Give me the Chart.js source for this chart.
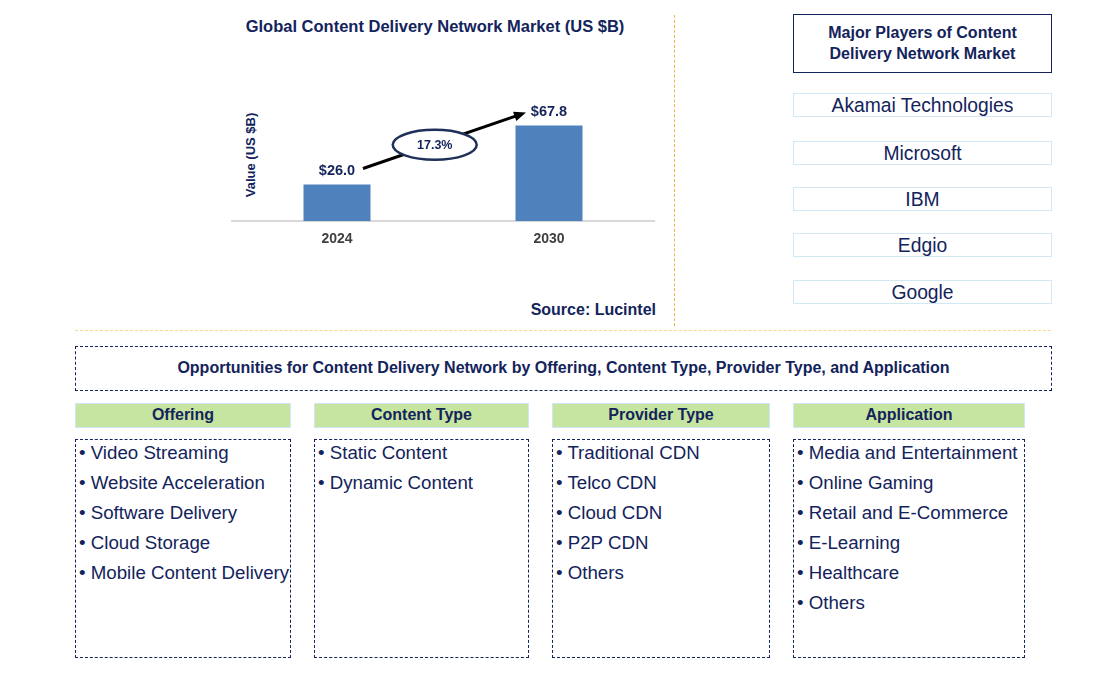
<!DOCTYPE html>
<html>
<head>
<meta charset="utf-8">
<script src="https://cdn.jsdelivr.net/npm/chart.js@4.4.1/dist/chart.umd.min.js"></script>
<style>
body { margin: 0; background: #fff; font-family: "Liberation Sans", Arial, sans-serif; color: #13235b; }
#page { position: relative; width: 1116px; height: 697px; overflow: hidden; }
.abs { position: absolute; box-sizing: border-box; }
.title { font-weight: bold; font-size: 16px; white-space: nowrap; }
.player { border: 1.5px solid #d3e8f5; font-size: 19.3px; text-align: center; line-height: 22px; padding-top: 1px; }
.seghead { background: #c6e5a0; border: 1.5px solid #cfe6f7; font-weight: bold; font-size: 16px; text-align: center; line-height: 21px; }
.seglist { border: 1.5px dashed #13235b; font-size: 18.7px; padding: 2px 0 0 3px; }
.seglist div { height: 30px; line-height: 22px; white-space: nowrap; }
</style>
</head>
<body>
<div id="page">
  <div class="abs title" style="left:185px;top:17px;width:500px;text-align:center;font-size:16.5px;">Global Content Delivery Network Market (US $B)</div>
  <div class="abs" style="left:243px;top:147px;width:0;height:0;">
    <div style="position:absolute;transform:translate(-50%,-50%) rotate(-90deg);font-weight:bold;font-size:13px;white-space:nowrap;left:7px;top:8px;">Value (US $B)</div>
  </div>
  <div class="abs" style="left:231px;top:60px;width:424px;height:190px;"><canvas id="mainChart" width="424" height="190"></canvas></div>
  <div class="abs title" style="left:480px;top:301px;width:176px;text-align:right;">Source: Lucintel</div>

  <div class="abs" style="left:674px;top:15px;width:0;height:311px;border-left:1.5px dashed #f5b342;"></div>
  <div class="abs" style="left:75px;top:330px;width:976px;height:0;border-top:1.5px dashed #f8d98c;"></div>

  <div class="abs title" style="left:793px;top:14px;width:259px;height:59px;border:1.5px solid #13235b;text-align:center;line-height:21px;padding-top:7px;">Major Players of Content<br>Delivery Network Market</div>
  <div id="players"></div>

  <div class="abs title" style="left:75px;top:346px;width:977px;height:45px;border:1.5px dashed #13235b;text-align:center;line-height:42px;">Opportunities for Content Delivery Network by Offering, Content Type, Provider Type, and Application</div>
  <div id="segments"></div>
</div>

<script>
var years = ['2024', '2030'];
var marketValues = [26.0, 67.8];
var cagrLabel = '17.3%';

var players = ['Akamai Technologies', 'Microsoft', 'IBM', 'Edgio', 'Google'];

var segmentTitles = ['Offering', 'Content Type', 'Provider Type', 'Application'];
var offering = ['Video Streaming', 'Website Acceleration', 'Software Delivery', 'Cloud Storage', 'Mobile Content Delivery'];
var contentType = ['Static Content', 'Dynamic Content'];
var providerType = ['Traditional CDN', 'Telco CDN', 'Cloud CDN', 'P2P CDN', 'Others'];
var application = ['Media and Entertainment', 'Online Gaming', 'Retail and E-Commerce', 'E-Learning', 'Healthcare', 'Others'];

// layout of the side panels
var playerTops = [93, 141, 187, 233, 280];
var colLeft = [75, 314, 552, 793];
var colWidth = [216, 215, 218, 232];

var html = '';
players.forEach(function(p, i) {
  html += '<div class="abs player" style="left:793px;top:' + playerTops[i] + 'px;width:259px;height:24px;">' + p + '</div>';
});
document.getElementById('players').innerHTML = html;

var lists = [offering, contentType, providerType, application];
html = '';
segmentTitles.forEach(function(t, i) {
  html += '<div class="abs seghead" style="left:' + colLeft[i] + 'px;top:403px;width:' + colWidth[i] + 'px;height:25px;">' + t + '</div>';
  html += '<div class="abs seglist" style="left:' + colLeft[i] + 'px;top:439px;width:' + colWidth[i] + 'px;height:219px;">';
  lists[i].forEach(function(item) { html += '<div>\u2022 ' + item + '</div>'; });
  html += '</div>';
});
document.getElementById('segments').innerHTML = html;

var overlayPlugin = {
  id: 'overlay',
  afterDatasetsDraw: function(chart) {
    var ctx = chart.ctx;
    var meta = chart.getDatasetMeta(0);
    var y = chart.scales.y;
    ctx.save();
    ctx.fillStyle = '#13235b';
    ctx.font = 'bold 14.5px "Liberation Sans", Arial, sans-serif';
    ctx.textAlign = 'center';
    ctx.textBaseline = 'middle';
    meta.data.forEach(function(bar, i) {
      ctx.fillText('$' + marketValues[i].toFixed(1), bar.x, bar.y - 13);
    });

    // growth arrow between the two value labels
    var x0 = meta.data[0].x + 26, y0 = y.getPixelForValue(marketValues[0]) - 16;
    var x1 = meta.data[1].x - 23, y1 = y.getPixelForValue(marketValues[1]) - 13;
    var ang = Math.atan2(y1 - y0, x1 - x0);
    ctx.strokeStyle = '#000';
    ctx.lineWidth = 3;
    ctx.beginPath();
    ctx.moveTo(x0, y0);
    ctx.lineTo(x1 - 8 * Math.cos(ang), y1 - 8 * Math.sin(ang));
    ctx.stroke();
    ctx.fillStyle = '#000';
    ctx.beginPath();
    ctx.moveTo(x1, y1);
    ctx.lineTo(x1 - 12 * Math.cos(ang) + 5 * Math.sin(ang), y1 - 12 * Math.sin(ang) - 5 * Math.cos(ang));
    ctx.lineTo(x1 - 12 * Math.cos(ang) - 5 * Math.sin(ang), y1 - 12 * Math.sin(ang) + 5 * Math.cos(ang));
    ctx.closePath();
    ctx.fill();

    // CAGR ellipse
    var t = 0.44;
    var ex = x0 + (x1 - x0) * t, ey = y0 + (y1 - y0) * t + 1;
    ctx.beginPath();
    ctx.ellipse(ex, ey, 42, 15, 0, 0, Math.PI * 2);
    ctx.fillStyle = '#fff';
    ctx.fill();
    ctx.lineWidth = 2.5;
    ctx.strokeStyle = '#1f3158';
    ctx.stroke();
    ctx.fillStyle = '#13235b';
    ctx.font = 'bold 12.5px "Liberation Sans", Arial, sans-serif';
    ctx.fillText(cagrLabel, ex, ey + 1);
    ctx.restore();
  }
};

new Chart(document.getElementById('mainChart').getContext('2d'), {
  type: 'bar',
  data: {
    labels: years,
    datasets: [{
      data: marketValues,
      backgroundColor: '#4f81bd',
      borderWidth: 0,
      barPercentage: 0.316,
      categoryPercentage: 1.0
    }]
  },
  options: {
    responsive: false,
    devicePixelRatio: 1,
    animation: false,
    layout: { padding: { top: 20, left: 0, right: 0, bottom: 0 } },
    plugins: { legend: { display: false }, tooltip: { enabled: false } },
    scales: {
      x: {
        grid: { display: false },
        border: { display: true, color: '#d9d9d9', width: 2 },
        ticks: { color: '#404040', font: { family: '"Liberation Sans", Arial, sans-serif', size: 14, weight: 'bold' }, padding: 2 }
      },
      y: { display: false, min: 0, max: 100 }
    }
  },
  plugins: [overlayPlugin]
});
</script>
</body>
</html>
